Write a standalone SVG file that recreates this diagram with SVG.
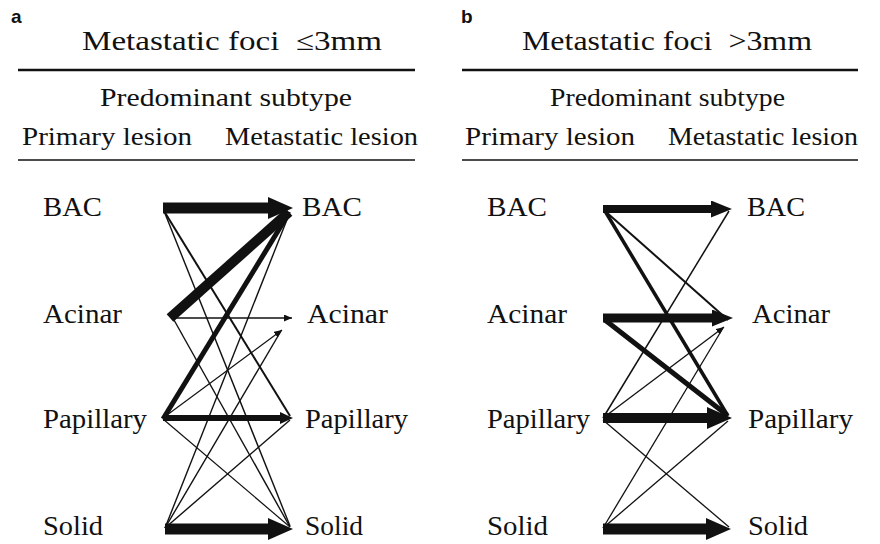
<svg xmlns="http://www.w3.org/2000/svg" width="880" height="544" viewBox="0 0 880 544">
<style>
  .bg { fill: #ffffff; }
  .panel { font-family: "Liberation Sans", Arial, sans-serif; font-weight: bold; font-size: 19px; fill: #111; }
  .serif { font-family: "Liberation Serif", "Times New Roman", Times, "Nimbus Roman", "Noto Serif", FreeSerif, "DejaVu Serif", serif; fill: #111; }
  .title { font-size: 27px; }
  .head { font-size: 25px; }
  .node { font-size: 27px; }
  .rule-thick { stroke: #111; stroke-width: 2.6; }
  .rule-thin { stroke: #111; stroke-width: 1.3; }
  .c { stroke: #111; fill: none; stroke-linecap: butt; }
</style>
<defs>
  <marker id="hXL" markerUnits="userSpaceOnUse" markerWidth="26" markerHeight="24" refX="0" refY="11" orient="auto">
    <path d="M0,0 L25,11 L0,22 z" fill="#111"/>
  </marker>
  <marker id="hL" markerUnits="userSpaceOnUse" markerWidth="22" markerHeight="18" refX="0" refY="8.5" orient="auto">
    <path d="M0,0 L21,8.5 L0,17 z" fill="#111"/>
  </marker>
  <marker id="hM" markerUnits="userSpaceOnUse" markerWidth="14" markerHeight="14" refX="0" refY="6" orient="auto">
    <path d="M0,0 L13,6 L0,12 z" fill="#111"/>
  </marker>
  <marker id="hS" markerUnits="userSpaceOnUse" markerWidth="10" markerHeight="10" refX="8" refY="3.5" orient="auto">
    <path d="M0,0 L8,3.5 L0,7 z" fill="#111"/>
  </marker>
</defs>
<rect class="bg" x="0" y="0" width="880" height="544"/>

<!-- Panel a header -->
<g id="a-header">
  <text class="panel" x="11" y="23">a</text>
  <text class="serif title" x="82" y="50" textLength="300" lengthAdjust="spacingAndGlyphs">Metastatic foci&#160; ≤3mm</text>
  <line class="rule-thick" x1="18" y1="70" x2="415" y2="70"/>
  <text class="serif head" x="100" y="106" textLength="252" lengthAdjust="spacingAndGlyphs">Predominant subtype</text>
  <text class="serif head" x="22" y="145" textLength="170" lengthAdjust="spacingAndGlyphs">Primary lesion</text>
  <text class="serif head" x="225" y="145" textLength="193" lengthAdjust="spacingAndGlyphs">Metastatic lesion</text>
  <line class="rule-thin" x1="18" y1="160" x2="415" y2="160"/>
</g>

<!-- Panel b header -->
<g id="b-header">
  <text class="panel" x="461" y="23">b</text>
  <text class="serif title" x="522" y="50" textLength="290" lengthAdjust="spacingAndGlyphs">Metastatic foci&#160; &gt;3mm</text>
  <line class="rule-thick" x1="462" y1="70" x2="858" y2="70"/>
  <text class="serif head" x="550" y="106" textLength="235" lengthAdjust="spacingAndGlyphs">Predominant subtype</text>
  <text class="serif head" x="465" y="145" textLength="170" lengthAdjust="spacingAndGlyphs">Primary lesion</text>
  <text class="serif head" x="668" y="145" textLength="190" lengthAdjust="spacingAndGlyphs">Metastatic lesion</text>
  <line class="rule-thin" x1="462" y1="160" x2="858" y2="160"/>
</g>

<!-- Panel a nodes -->
<g id="a-primary-bac"><text class="serif node" x="43" y="216" textLength="59" lengthAdjust="spacingAndGlyphs">BAC</text></g>
<g id="a-primary-acinar"><text class="serif node" x="43" y="323" textLength="79" lengthAdjust="spacingAndGlyphs">Acinar</text></g>
<g id="a-primary-papillary"><text class="serif node" x="43" y="428" textLength="104" lengthAdjust="spacingAndGlyphs">Papillary</text></g>
<g id="a-primary-solid"><text class="serif node" x="43" y="535" textLength="60" lengthAdjust="spacingAndGlyphs">Solid</text></g>
<g id="a-meta-bac"><text class="serif node" x="302" y="216" textLength="60" lengthAdjust="spacingAndGlyphs">BAC</text></g>
<g id="a-meta-acinar"><text class="serif node" x="307" y="323" textLength="81" lengthAdjust="spacingAndGlyphs">Acinar</text></g>
<g id="a-meta-papillary"><text class="serif node" x="305" y="428" textLength="103" lengthAdjust="spacingAndGlyphs">Papillary</text></g>
<g id="a-meta-solid"><text class="serif node" x="305" y="535" textLength="58" lengthAdjust="spacingAndGlyphs">Solid</text></g>

<!-- Panel b nodes -->
<g id="b-primary-bac"><text class="serif node" x="487" y="216" textLength="60" lengthAdjust="spacingAndGlyphs">BAC</text></g>
<g id="b-primary-acinar"><text class="serif node" x="487" y="323" textLength="80" lengthAdjust="spacingAndGlyphs">Acinar</text></g>
<g id="b-primary-papillary"><text class="serif node" x="487" y="428" textLength="103" lengthAdjust="spacingAndGlyphs">Papillary</text></g>
<g id="b-primary-solid"><text class="serif node" x="487" y="535" textLength="61" lengthAdjust="spacingAndGlyphs">Solid</text></g>
<g id="b-meta-bac"><text class="serif node" x="747" y="216" textLength="58" lengthAdjust="spacingAndGlyphs">BAC</text></g>
<g id="b-meta-acinar"><text class="serif node" x="752" y="323" textLength="78" lengthAdjust="spacingAndGlyphs">Acinar</text></g>
<g id="b-meta-papillary"><text class="serif node" x="748" y="428" textLength="105" lengthAdjust="spacingAndGlyphs">Papillary</text></g>
<g id="b-meta-solid"><text class="serif node" x="748" y="535" textLength="60" lengthAdjust="spacingAndGlyphs">Solid</text></g>

<!-- Panel a connectors -->
<g id="connectors-a">
  <line class="c" x1="163" y1="208" x2="268" y2="208" stroke-width="11" marker-end="url(#hXL)"/>
  <line class="c" x1="170" y1="318" x2="289" y2="212" stroke-width="10"/>
  <line class="c" x1="163" y1="419" x2="289" y2="213" stroke-width="5"/>
  <line class="c" x1="164" y1="211" x2="290" y2="416" stroke-width="2"/>
  <line class="c" x1="164" y1="211" x2="290" y2="526" stroke-width="1.4"/>
  <line class="c" x1="172" y1="318" x2="292" y2="318" stroke-width="1.6" marker-end="url(#hS)"/>
  <line class="c" x1="174" y1="320" x2="290" y2="527" stroke-width="1.4"/>
  <line class="c" x1="163" y1="418" x2="282" y2="330" stroke-width="1.2" marker-end="url(#hS)"/>
  <line class="c" x1="163" y1="418" x2="280" y2="418" stroke-width="6" marker-end="url(#hM)"/>
  <line class="c" x1="163" y1="419" x2="290" y2="527" stroke-width="1.2"/>
  <line class="c" x1="165" y1="528" x2="290" y2="212" stroke-width="1.4"/>
  <line class="c" x1="165" y1="528" x2="281" y2="331" stroke-width="1.4"/>
  <line class="c" x1="165" y1="528" x2="290" y2="420" stroke-width="1.4"/>
  <line class="c" x1="165" y1="529" x2="268" y2="529" stroke-width="11" marker-end="url(#hXL)"/>
</g>

<!-- Panel b connectors -->
<g id="connectors-b">
  <line class="c" x1="603" y1="209" x2="711" y2="209" stroke-width="8" marker-end="url(#hL)"/>
  <line class="c" x1="605" y1="211" x2="728" y2="320" stroke-width="2"/>
  <line class="c" x1="605" y1="211" x2="728" y2="416" stroke-width="3.5"/>
  <line class="c" x1="603" y1="318" x2="712" y2="318" stroke-width="9" marker-end="url(#hL)"/>
  <line class="c" x1="605" y1="320" x2="727" y2="415" stroke-width="5"/>
  <line class="c" x1="603" y1="418" x2="729" y2="211" stroke-width="1.5"/>
  <line class="c" x1="603" y1="418" x2="724" y2="327" stroke-width="1.3" marker-end="url(#hS)"/>
  <line class="c" x1="603" y1="418" x2="707" y2="418" stroke-width="10" marker-end="url(#hXL)"/>
  <line class="c" x1="603" y1="420" x2="729" y2="527" stroke-width="1.3"/>
  <line class="c" x1="603" y1="528" x2="723" y2="328" stroke-width="1.3"/>
  <line class="c" x1="603" y1="528" x2="728" y2="421" stroke-width="1.3"/>
  <line class="c" x1="603" y1="529" x2="706" y2="529" stroke-width="11" marker-end="url(#hXL)"/>
</g>
</svg>
